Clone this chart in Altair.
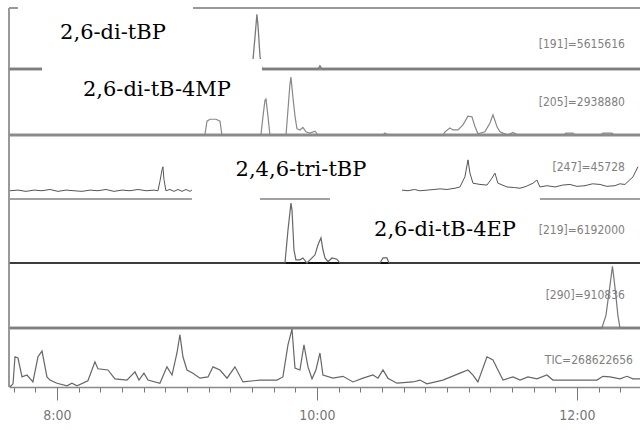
import altair as alt
import pandas as pd

# ---------------- data (retention time in minutes, relative intensity in %) ----------------
T191 = [7.631, 9.492, 9.508, 9.523, 9.538, 9.546, 9.562, 9.577, 10.008, 10.023, 10.038, 12.485]
I191 = [0, 0, 15, 50, 87, 70, 20, 0, 0, 5, 0, 0]

T205 = [7.631, 9.138, 9.154, 9.177, 9.223, 9.254, 9.269, 9.569, 9.585, 9.600, 9.608, 9.623, 9.638,
        9.762, 9.777, 9.792, 9.800, 9.815, 9.831, 9.846, 9.869, 9.892, 9.915, 9.946, 9.985, 10.008,
        10.508, 10.523, 10.546, 10.969, 10.985, 11.023, 11.046, 11.085, 11.123, 11.162, 11.192, 11.215,
        11.238, 11.292, 11.331, 11.354, 11.385, 11.408, 11.431, 11.469, 11.508, 11.546, 11.900, 11.915,
        11.969, 11.985, 12.185, 12.200, 12.269, 12.285, 12.485]
I205 = [0, 0, 22, 25, 25, 22, 0, 0, 30, 55, 57, 30, 0,
        0, 40, 80, 92, 60, 30, 10, 8, 12, 5, 3, 6, 0,
        0, 3, 0, 0, 5, 11, 8, 8, 16, 30, 29, 14,
        2, 5, 19, 32, 13, 5, 3, 0, 4, 0, 0, 3,
        3, 0, 0, 3, 3, 0, 0]

T247 = [7.638, 7.700, 7.762, 7.823, 7.885, 7.946, 8.008, 8.069, 8.131, 8.192, 8.254, 8.315, 8.377,
        8.438, 8.500, 8.562, 8.623, 8.685, 8.746, 8.777, 8.792, 8.808, 8.815, 8.823, 8.838, 8.869,
        8.900, 8.931, 8.962, 8.992, 9.023, 9.038,
        10.654, 10.700, 10.750, 10.792, 10.850, 10.900, 10.946, 11.000, 11.062, 11.100, 11.138, 11.162,
        11.177, 11.200, 11.254, 11.308, 11.346, 11.369, 11.392, 11.462, 11.520, 11.562, 11.610, 11.662,
        11.692, 11.715, 11.770, 11.831, 11.890, 11.946, 12.000, 12.062, 12.120, 12.177, 12.230, 12.292,
        12.330, 12.369, 12.431, 12.469]
I247 = [2, 3, 1, 3, 2, 4, 1, 3, 2, 1, 3, 2, 4,
        1, 3, 2, 4, 2, 3, 2, 17, 35, 40, 20, 2, 4,
        1, 4, 1, 4, 1, 3,
        3, 2, 4, 2, 3, 4, 5, 4, 6, 8, 24, 51,
        30, 14, 12, 11, 22, 30, 14, 8, 7, 6, 9, 14,
        19, 8, 10, 8, 11, 12, 9, 10, 13, 12, 9, 10,
        13, 12, 24, 40]

T219 = [7.631, 9.754, 9.777, 9.800, 9.808, 9.823, 9.838, 9.869, 9.892, 9.923, 9.985, 10.008, 10.031,
        10.046, 10.062, 10.085, 10.115, 10.154, 10.177, 10.485, 10.508, 10.538, 10.554, 12.485]
I219 = [0, 0, 52, 95, 84, 21, 5, 5, 8, 0, 13, 29, 40,
        21, 8, 2, 8, 6, 0, 0, 8, 8, 0, 0]

T290 = [7.631, 12.192, 12.223, 12.246, 12.262, 12.273, 12.285, 12.300, 12.315, 12.331, 12.485]
I290 = [0, 0, 20, 55, 80, 98, 78, 50, 20, 0, 0]

TTIC = [7.638, 7.662, 7.677, 7.700, 7.731, 7.769, 7.815, 7.854, 7.885, 7.923, 7.946, 8.000, 8.077,
        8.115, 8.154, 8.238, 8.292, 8.315, 8.392, 8.446, 8.538, 8.600, 8.631, 8.669, 8.700, 8.792,
        8.846, 8.885, 8.923, 8.946, 8.969, 9.000, 9.046, 9.100, 9.162, 9.200, 9.254, 9.308, 9.369,
        9.431, 9.562, 9.692, 9.738, 9.777, 9.808, 9.831, 9.869, 9.900, 9.931, 9.962, 9.992, 10.023,
        10.046, 10.123, 10.200, 10.277, 10.354, 10.431, 10.469, 10.508, 10.546, 10.615, 10.738, 10.792,
        10.846, 10.969, 11.100, 11.162, 11.200, 11.238, 11.308, 11.354, 11.392, 11.431, 11.508, 11.562,
        11.623, 11.692, 11.769, 11.815, 12.154, 12.200, 12.254, 12.331, 12.385, 12.431, 12.485]
ITIC = [0, 5, 48, 46, 16, 19, 8, 48, 57, 16, 11, 6, 2,
        6, 2, 10, 40, 29, 27, 13, 11, 24, 11, 22, 11, 6,
        32, 19, 54, 83, 48, 27, 22, 14, 16, 32, 27, 14, 32,
        8, 11, 11, 16, 67, 92, 30, 27, 67, 32, 13, 27, 54,
        19, 14, 17, 8, 14, 19, 14, 27, 14, 6, 8, 11,
        5, 11, 22, 27, 19, 8, 48, 43, 27, 11, 16, 11,
        16, 13, 19, 11, 11, 17, 16, 13, 17, 13, 13]

COMPOUNDS = ["2,6-di-tBP", "2,6-di-tB-4MP", "2,4,6-tri-tBP", "2,6-di-tB-4EP"]
ION_LABELS = ["[191]=5615616", "[205]=2938880", "[247]=45728", "[219]=6192000", "[290]=910836", "TIC=268622656"]

MAJOR_TICKS = [8, 10, 12]
MAJOR_LABELS = ["8:00", "10:00", "12:00"]

# ---------------- layout (levels in plot units, 0 = bottom axis, 379 = top) ----------------
T0, T1 = 7.631, 12.485
TOP = 379
SCALE = 0.63   # plot units per % intensity

traces = [
    ("191", T191, I191, 318, "#7a7a7a", 1.3),
    ("205", T205, I205, 252, "#888888", 1.2),
    ("247", T247, I247, 195, "#555555", 1.0),
    ("219", T219, I219, 124, "#666666", 1.2),
    ("290", T290, I290, 59, "#777777", 1.2),
    ("TIC", TTIC, ITIC, 0, "#666666", 1.2),
]
rows = []
for name, ts, vals, base, col, w in traces:
    for i, (t, v) in enumerate(zip(ts, vals)):
        rows.append({"trace": name, "i": i, "t": t, "y": base + v * SCALE, "col": col, "w": w})
df_tr = pd.DataFrame(rows)

rules = pd.DataFrame([
    {"x": T0, "x2": T1, "y": 318, "y2": 318, "w": 3, "col": "#8c8c8c"},
    {"x": T0, "x2": T1, "y": 252, "y2": 252, "w": 3, "col": "#8c8c8c"},
    {"x": T0, "x2": T1, "y": 188, "y2": 188, "w": 1, "col": "#444444"},
    {"x": T0, "x2": T1, "y": 124, "y2": 124, "w": 2, "col": "#111111"},
    {"x": T0, "x2": T1, "y": 59, "y2": 59, "w": 3, "col": "#8c8c8c"},
    {"x": T0, "x2": T1, "y": TOP, "y2": TOP, "w": 2, "col": "#999999"},
    {"x": T0, "x2": T0, "y": 0, "y2": TOP, "w": 2, "col": "#999999"},
])

boxes = pd.DataFrame([
    {"x": 7.700, "x2": 9.046, "y": 335, "y2": 382},
    {"x": 7.885, "x2": 9.577, "y": 275, "y2": 328},
    {"x": 9.038, "x2": 10.654, "y": 190, "y2": 242},
    {"x": 9.038, "x2": 9.562, "y": 184, "y2": 191},
    {"x": 10.100, "x2": 11.715, "y": 131, "y2": 189},
])

serif = pd.DataFrame({
    "label": COMPOUNDS,
    "t": [8.431, 8.769, 9.877, 10.985],
    "y": [354, 297, 217, 157],
})

gray = pd.DataFrame({
    "label": ION_LABELS,
    "t": [12.369, 12.369, 12.369, 12.369, 12.369, 12.431],
    "y": [343, 285, 220, 157, 92, 27],
})

minor_ticks = [round(7 + 4 / 6 + k / 6, 4) for k in range(29)]
label_expr = ""
for v, lab in zip(MAJOR_TICKS, MAJOR_LABELS):
    label_expr += f"datum.value == {v} ? '{lab}' : "
label_expr += "''"

xs = alt.Scale(domain=[T0, T1], nice=False, zero=False)
ys = alt.Scale(domain=[0, TOP], nice=False, zero=False)
COND = "DejaVu Sans Condensed, Liberation Sans Narrow, sans-serif"

minor_axis = alt.Axis(orient="bottom", values=minor_ticks, labels=False, tickSize=5, tickColor="#777777",
                      tickWidth=1, domainColor="#888888", domainWidth=1.5, grid=False, title=None)
major_axis = alt.Axis(orient="bottom", values=MAJOR_TICKS, labelExpr=label_expr, tickSize=13,
                      tickColor="#777777", tickWidth=1, domain=False, grid=False, title=None,
                      labelFont=COND, labelFontSize=14, labelColor="#777777", labelPadding=8)

rule_layer = alt.Chart(rules).mark_rule().encode(
    x=alt.X("x:Q", scale=xs, axis=minor_axis),
    x2="x2:Q",
    y=alt.Y("y:Q", scale=ys, axis=None),
    y2="y2:Q",
    strokeWidth=alt.StrokeWidth("w:Q", scale=None),
    color=alt.Color("col:N", scale=None),
)

trace_layer = alt.Chart(df_tr).mark_line(interpolate="linear").encode(
    x=alt.X("t:Q", scale=xs, axis=major_axis),
    y=alt.Y("y:Q", scale=ys, axis=None),
    detail="trace:N",
    order="i:Q",
    color=alt.Color("col:N", scale=None),
    strokeWidth=alt.StrokeWidth("w:Q", scale=None),
)

box_layer = alt.Chart(boxes).mark_rect(color="white").encode(
    x=alt.X("x:Q", scale=xs, axis=None),
    x2="x2:Q",
    y=alt.Y("y:Q", scale=ys, axis=None),
    y2="y2:Q",
)

serif_layer = alt.Chart(serif).mark_text(font="DejaVu Serif", fontSize=21, color="black",
                                         align="center", baseline="middle").encode(
    x=alt.X("t:Q", scale=xs, axis=None),
    y=alt.Y("y:Q", scale=ys, axis=None),
    text="label:N",
)

gray_layer = alt.Chart(gray).mark_text(font=COND, fontSize=12, color="#808080",
                                       align="right", baseline="middle").encode(
    x=alt.X("t:Q", scale=xs, axis=None),
    y=alt.Y("y:Q", scale=ys, axis=None),
    text="label:N",
)

chart = alt.layer(rule_layer, trace_layer, box_layer, serif_layer, gray_layer).resolve_axis(
    x="independent"
).properties(
    width=631, height=379,
    padding={"left": 9, "top": 8, "right": 0, "bottom": 43},
    autosize=alt.AutoSizeParams(type="none"),
    background="white",
).configure_view(stroke=None)

chart.save("out.html", embed_options={"renderer": "svg", "actions": False})
